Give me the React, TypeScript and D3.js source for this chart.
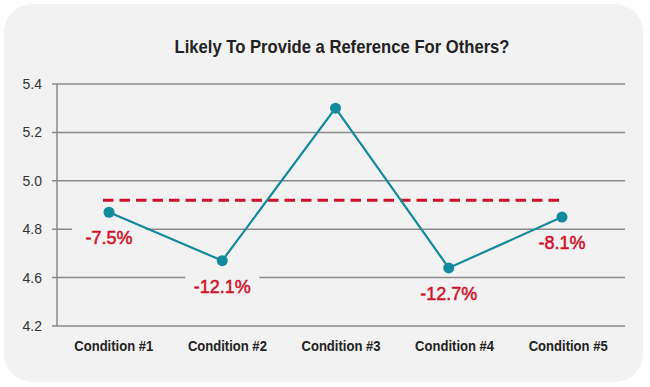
import { useEffect, useRef } from "react";
import * as d3 from "d3";

const categories = ["Condition #1", "Condition #2", "Condition #3", "Condition #4", "Condition #5"];
const values = [4.87, 4.67, 5.3, 4.64, 4.85];
const changeLabels = ["-7.5%", "-12.1%", "", "-12.7%", "-8.1%"];
const referenceValue = 4.92;
const yTickValues = [4.4, 4.6, 4.8, 5.0, 5.2, 5.4];
const yTickLabels = ["4.2", "4.6", "4.8", "5.0", "5.2", "5.4"];

const TEAL = "#128a9c";
const RED = "#d0112b";
const GRID = "#8a8a8a";
const SANS = "'Liberation Sans', Arial, sans-serif";

export default function App() {
  const svgRef = useRef<SVGSVGElement>(null);

  useEffect(() => {
    document.body.style.margin = "0";
    draw();
  }, []);

  function draw() {
    const svg = d3.select(svgRef.current);
    svg.selectAll("*").remove();

    const width = 650;
    const height = 387;
    const left = 57;
    const right = 625;

    svg.attr("width", width).attr("height", height);

    svg.append("rect")
      .attr("width", width)
      .attr("height", height)
      .attr("fill", "#ffffff");

    svg.append("rect")
      .attr("x", 4)
      .attr("y", 4)
      .attr("width", 639)
      .attr("height", 378)
      .attr("rx", 28)
      .attr("fill", "#f2f2f2");

    const y = d3.scaleLinear().domain([4.4, 5.4]).range([326, 84]);
    const xBand = d3.scaleBand().domain(categories).range([left, right]);
    const xPoint = d3.scalePoint().domain(categories).range([109, 562]);

    // title (condensed look via textLength)
    svg.append("text")
      .attr("x", 342)
      .attr("y", 53)
      .attr("text-anchor", "middle")
      .attr("textLength", 335)
      .attr("lengthAdjust", "spacingAndGlyphs")
      .style("font-family", SANS)
      .style("font-weight", 700)
      .style("font-size", "19px")
      .style("fill", "#222")
      .text("Likely To Provide a Reference For Others?");

    // gridlines
    svg.append("g")
      .selectAll("line")
      .data(yTickValues)
      .join("line")
      .attr("x1", left - 5)
      .attr("x2", right)
      .attr("y1", d => y(d))
      .attr("y2", d => y(d))
      .attr("stroke", GRID)
      .attr("stroke-width", 1.5);

    // y axis line
    svg.append("line")
      .attr("x1", left)
      .attr("x2", left)
      .attr("y1", y(5.4))
      .attr("y2", y(4.4))
      .attr("stroke", GRID)
      .attr("stroke-width", 1.5);

    // y tick labels
    svg.append("g")
      .selectAll("text")
      .data(yTickValues)
      .join("text")
      .attr("x", 42)
      .attr("y", d => y(d) + 5)
      .attr("text-anchor", "end")
      .style("font-family", SANS)
      .style("font-size", "14px")
      .style("fill", "#333")
      .text((d, i) => yTickLabels[i]);

    // x labels
    svg.append("g")
      .selectAll("text")
      .data(categories)
      .join("text")
      .attr("x", d => (xBand(d) ?? 0) + xBand.bandwidth() / 2)
      .attr("y", 351)
      .attr("text-anchor", "middle")
      .attr("textLength", 79)
      .attr("lengthAdjust", "spacingAndGlyphs")
      .style("font-family", SANS)
      .style("font-weight", 700)
      .style("font-size", "14.5px")
      .style("fill", "#222")
      .text(d => d);

    // reference dashed line
    svg.append("line")
      .attr("x1", xPoint(categories[0])! - 6)
      .attr("x2", xPoint(categories[categories.length - 1])! + 1)
      .attr("y1", y(referenceValue))
      .attr("y2", y(referenceValue))
      .attr("stroke", RED)
      .attr("stroke-width", 3)
      .attr("stroke-dasharray", "10.5,6");

    const pts = categories.map((c, i) => ({ c, v: values[i], label: changeLabels[i] }));

    // change labels with background
    const labels = svg.append("g");
    pts.filter(p => p.label).forEach(p => {
      const cx = xPoint(p.c)!;
      const by = y(p.v) + 32;
      labels.append("rect")
        .attr("x", cx - 37)
        .attr("y", by - 18)
        .attr("width", 74)
        .attr("height", 24)
        .attr("fill", "#f2f2f2");
      labels.append("text")
        .attr("x", cx)
        .attr("y", by)
        .attr("text-anchor", "middle")
        .style("font-family", SANS)
        .style("font-size", "18px")
        .style("fill", RED)
        .style("stroke", RED)
        .style("stroke-width", 0.5)
        .text(p.label);
    });

    // series line
    const line = d3.line<{ c: string; v: number }>()
      .x(d => xPoint(d.c)!)
      .y(d => y(d.v));

    svg.append("path")
      .datum(pts)
      .attr("d", line)
      .attr("fill", "none")
      .attr("stroke", TEAL)
      .attr("stroke-width", 2.2);

    svg.append("g")
      .selectAll("circle")
      .data(pts)
      .join("circle")
      .attr("cx", d => xPoint(d.c)!)
      .attr("cy", d => y(d.v))
      .attr("r", 5.5)
      .attr("fill", TEAL);
  }

  return <svg ref={svgRef} style={{ display: "block" }}></svg>;
}
